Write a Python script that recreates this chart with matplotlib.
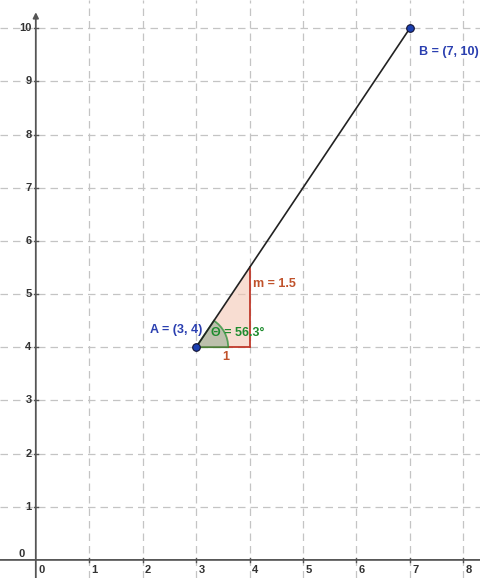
import numpy as np
import matplotlib

matplotlib.use("Agg")
import matplotlib.pyplot as plt
from matplotlib.patches import Polygon, Wedge

# ---- data ----
x_ticks = [0, 1, 2, 3, 4, 5, 6, 7, 8]
y_ticks = [0, 1, 2, 3, 4, 5, 6, 7, 8, 9, 10]
point_a = (3, 4)
point_b = (7, 10)
slope = 1.5
angle_deg = 56.3

plt.rcParams["font.family"] = ["Liberation Sans", "DejaVu Sans"]

fig = plt.figure(figsize=(4.81, 5.78), dpi=100)
ax = fig.add_axes([0, 0, 1, 1])
ax.set_xlim(-0.67, 8.33)
ax.set_ylim(-0.34, 10.53)
ax.axis("off")

grid_kw = dict(color="#c4c4c4", lw=0.9, dashes=(6, 4), zorder=0)
for x in x_ticks[1:]:
    ax.axvline(x, **grid_kw)
for y in y_ticks[1:]:
    ax.axhline(y, **grid_kw)

# axes with arrows
axis_col = "#555555"
ax.annotate("", xy=(0, 10.3), xytext=(0, -0.34),
            arrowprops=dict(arrowstyle="-|>", color=axis_col, lw=1.3,
                            mutation_scale=8, shrinkA=0, shrinkB=0))
ax.annotate("", xy=(8.33, 0), xytext=(-0.67, 0),
            arrowprops=dict(arrowstyle="-", color=axis_col, lw=1.3,
                            shrinkA=0, shrinkB=0))

# tick marks + labels
for x in x_ticks:
    if x > 0:
        ax.plot([x, x], [-0.04, 0.04], color=axis_col, lw=1)
    ax.text(x + 0.1, -0.1, str(x), ha="center", va="top", fontsize=8,
            color="#333333", fontweight="bold")
for y in y_ticks:
    if y > 0:
        ax.plot([-0.04, 0.04], [y, y], color=axis_col, lw=1)
        ax.text(-0.08, y, str(y), ha="right", va="center", fontsize=8,
                color="#333333", fontweight="bold")
ax.text(-0.2, 0.12, "0", ha="right", va="center", fontsize=8,
        color="#333333", fontweight="bold")

# slope triangle
ax_, ay_ = point_a
tri = Polygon([(ax_, ay_), (ax_ + 1, ay_), (ax_ + 1, ay_ + slope)],
              closed=True, facecolor="#f4c7b4", alpha=0.6, edgecolor="none",
              zorder=1)
ax.add_patch(tri)
ax.plot([ax_, ax_ + 1], [ay_, ay_], color="#c0392b", lw=1.3, zorder=2)
ax.plot([ax_ + 1, ax_ + 1], [ay_, ay_ + slope], color="#c0392b", lw=1.3, zorder=2)

# angle sector
wedge = Wedge((ax_, ay_), 0.6, 0, angle_deg, facecolor="#a3b49c", alpha=0.7,
              edgecolor="#1e8c2e", lw=1.3, zorder=3)
ax.add_patch(wedge)

# segment AB
ax.plot([point_a[0], point_b[0]], [point_a[1], point_b[1]],
        color="#222222", lw=1.2, zorder=4)
ax.scatter([point_a[0], point_b[0]], [point_a[1], point_b[1]], s=30,
           color="#1a3fb0", edgecolor="#111133", lw=0.8, zorder=5)

# labels
ax.text(2.13, 4.32, "A = (3, 4)", color="#2a3fb0", fontsize=9,
        fontweight="bold", va="center", zorder=6)
ax.text(7.17, 9.55, "B = (7, 10)", color="#2a3fb0", fontsize=9,
        fontweight="bold", va="center", zorder=6)
ax.text(4.06, 5.19, "m = 1.5", color="#c0522b", fontsize=9,
        fontweight="bold", va="center", zorder=6)
ax.text(3.56, 3.82, "1", color="#c0522b", fontsize=9, fontweight="bold",
        ha="center", va="center", zorder=6)
ax.text(3.27, 4.27, f"Θ = {angle_deg}°", color="#1e8c2e", fontsize=9,
        fontweight="bold", va="center", zorder=6)

fig.savefig("out.png", dpi=100)
